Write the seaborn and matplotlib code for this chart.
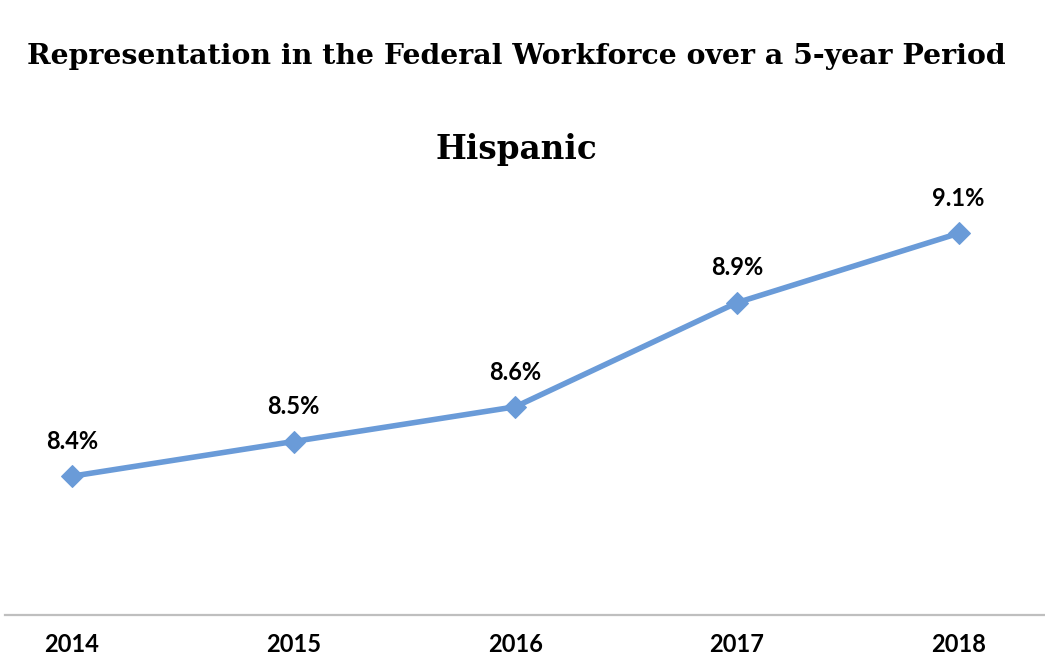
import matplotlib
matplotlib.use("Agg")
import matplotlib.pyplot as plt
import seaborn as sns
import pandas as pd

years = ["2014", "2015", "2016", "2017", "2018"]
values = [8.4, 8.5, 8.6, 8.9, 9.1]
labels = ["8.4%", "8.5%", "8.6%", "8.9%", "9.1%"]

sns.set_theme(style="white")
plt.rcParams['font.family'] = ['Lato', 'DejaVu Sans']

df = pd.DataFrame({"year": years, "value": values})

fig = plt.figure(figsize=(10.45, 6.69), dpi=100)
ax = fig.add_axes([5/1045, 1 - 615/669, 1 - 5/1045, 1.45 * 347 / 669])

color = "#6A9BD8"
sns.lineplot(data=df, x="year", y="value", ax=ax, color=color, linewidth=4,
             marker="D", markersize=11, markeredgecolor=color, sort=False)

for i, (v, lab) in enumerate(zip(values, labels)):
    ax.annotate(lab, (i, v), xytext=(0, 25), textcoords="offset points",
                ha="center", va="center", fontsize=17, fontweight="bold", color="#000000")

ax.set_xlim(-0.302, 4.39)
ax.set_ylim(8.0, 9.45)
ax.set_xlabel("")
ax.set_ylabel("")
ax.set_yticks([])
for s in ["top", "right", "left"]:
    ax.spines[s].set_visible(False)
ax.spines["bottom"].set_color("#BFBFBF")
ax.spines["bottom"].set_linewidth(1.6)
ax.tick_params(axis="x", length=0, pad=13, labelsize=17, labelcolor="#000000")
for t in ax.get_xticklabels():
    t.set_fontweight("bold")

fig.text(516/1045, 1 - 57/669, "Representation in the Federal Workforce over a 5-year Period",
         ha="center", va="center", fontsize=20.4, fontweight="bold", family="DejaVu Serif",
         color="#000000")
fig.text(516/1045, 1 - 150/669, "Hispanic", ha="center", va="center",
         fontsize=23.5, fontweight="bold", family="DejaVu Serif", color="#000000")

fig.savefig("out.png", dpi=100, facecolor="white")
